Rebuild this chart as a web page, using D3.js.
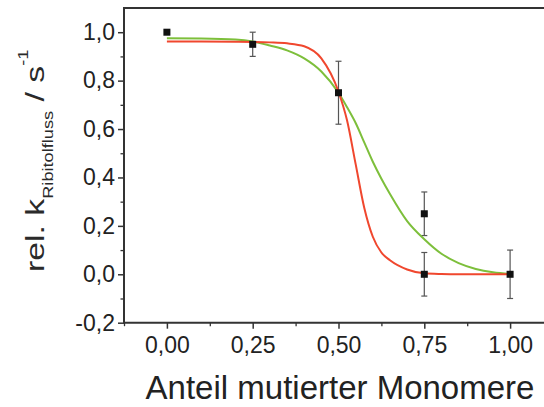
<!DOCTYPE html>
<html>
<head>
<meta charset="utf-8">
<script src="https://cdn.jsdelivr.net/npm/d3@7"></script>
<style>
  html, body { margin: 0; padding: 0; background: #fff; }
  svg { display: block; font-family: "Liberation Sans", Arial, sans-serif; }
</style>
</head>
<body>
<svg></svg>
<script>
// measured points with error bars
const pointX = [0, 0.25, 0.5, 0.75, 0.75, 1.0];
const pointY = [1.0, 0.95, 0.75, 0.25, 0.0, 0.0];
const pointErr = [0, 0.05, 0.13, 0.09, 0.09, 0.10];

// fitted curves
const fitX = [0, 0.1, 0.2, 0.25, 0.3, 0.35, 0.4, 0.45, 0.5, 0.525, 0.55, 0.575, 0.6, 0.625, 0.65, 0.7, 0.75, 0.8, 0.85, 0.9, 0.95, 1.0];
const redFit = [0.962, 0.962, 0.961, 0.960, 0.958, 0.954, 0.942, 0.892, 0.754, 0.635, 0.455, 0.275, 0.155, 0.090, 0.058, 0.020, 0.004, 0.001, 0, 0, 0, 0];
const greenFit = [0.975, 0.974, 0.970, 0.962, 0.945, 0.925, 0.892, 0.838, 0.750, 0.690, 0.625, 0.545, 0.465, 0.395, 0.332, 0.220, 0.145, 0.085, 0.046, 0.022, 0.008, 0.001];

const xTicks = [0, 0.25, 0.5, 0.75, 1.0];
const xMinor = [-0.125, 0.125, 0.375, 0.625, 0.875, 1.125];
const yTicks = [-0.2, 0, 0.2, 0.4, 0.6, 0.8, 1.0];
const yMinor = [-0.1, 0.1, 0.3, 0.5, 0.7, 0.9];

document.addEventListener('DOMContentLoaded', function() {
  const width = 544;
  const height = 407;

  const svg = d3.select('svg')
    .attr('width', width)
    .attr('height', height);

  const x = d3.scaleLinear().domain([-0.125, 1.125]).range([124, 553]);
  const y = d3.scaleLinear().domain([-0.2, 1.1]).range([322.7, 8]);

  const de = d3.formatLocale({decimal: ',', thousands: '.', grouping: [3], currency: ['', ''], minus: '-'});
  const fmtX = de.format('.2f');
  const fmtY = de.format('.1f');

  const axisColor = '#333';

  // minor ticks
  svg.append('g')
    .attr('transform', `translate(0,${y(-0.2)})`)
    .call(d3.axisBottom(x).tickValues(xMinor).tickSize(3.5).tickFormat(''))
    .call(g => g.select('.domain').remove())
    .call(g => g.selectAll('line').attr('stroke', axisColor).attr('stroke-width', 1.3));

  svg.append('g')
    .attr('transform', `translate(${x(-0.125)},0)`)
    .call(d3.axisLeft(y).tickValues(yMinor).tickSize(3.5).tickFormat(''))
    .call(g => g.select('.domain').remove())
    .call(g => g.selectAll('line').attr('stroke', axisColor).attr('stroke-width', 1.3));

  // major axes
  svg.append('g')
    .attr('transform', `translate(0,${y(-0.2)})`)
    .call(d3.axisBottom(x).tickValues(xTicks).tickSize(6).tickSizeOuter(0).tickPadding(8).tickFormat(fmtX))
    .call(g => g.select('.domain').remove())
    .call(g => g.selectAll('line').attr('stroke', axisColor).attr('stroke-width', 1.5))
    .call(g => g.selectAll('text').attr('font-size', 23).attr('fill', '#222')
      .attr('font-family', '"Liberation Sans", Arial, sans-serif'));

  svg.append('g')
    .attr('transform', `translate(${x(-0.125)},0)`)
    .call(d3.axisLeft(y).tickValues(yTicks).tickSize(6).tickSizeOuter(0).tickPadding(3).tickFormat(fmtY))
    .call(g => g.select('.domain').remove())
    .call(g => g.selectAll('line').attr('stroke', axisColor).attr('stroke-width', 1.5))
    .call(g => g.selectAll('text').attr('font-size', 23).attr('fill', '#222')
      .attr('font-family', '"Liberation Sans", Arial, sans-serif'));

  // frame: left, bottom, top
  const frame = svg.append('g')
    .attr('stroke', axisColor)
    .attr('stroke-width', 2)
    .attr('fill', 'none');
  frame.append('path')
    .attr('d', `M${x(1.125)},${y(1.1)}H${x(-0.125)}V${y(-0.2)}H${x(1.125)}`);

  // error bars
  const pts = pointX.map((px, i) => ({x: px, y: pointY[i], e: pointErr[i]}));
  const bars = svg.append('g')
    .attr('stroke', '#555')
    .attr('stroke-width', 1.2)
    .selectAll('g')
    .data(pts.filter(d => d.e > 0))
    .join('g');
  bars.append('line')
    .attr('x1', d => x(d.x)).attr('x2', d => x(d.x))
    .attr('y1', d => y(d.y - d.e)).attr('y2', d => y(d.y + d.e));
  bars.append('line')
    .attr('x1', d => x(d.x) - 3).attr('x2', d => x(d.x) + 3)
    .attr('y1', d => y(d.y + d.e)).attr('y2', d => y(d.y + d.e));
  bars.append('line')
    .attr('x1', d => x(d.x) - 3).attr('x2', d => x(d.x) + 3)
    .attr('y1', d => y(d.y - d.e)).attr('y2', d => y(d.y - d.e));

  // fit curves
  const line = d3.line()
    .x((d, i) => x(fitX[i]))
    .y(d => y(d))
    .curve(d3.curveMonotoneX);

  svg.append('path')
    .datum(greenFit)
    .attr('fill', 'none')
    .attr('stroke', '#7dbf3b')
    .attr('stroke-width', 2)
    .attr('d', line);

  svg.append('path')
    .datum(redFit)
    .attr('fill', 'none')
    .attr('stroke', '#f0472e')
    .attr('stroke-width', 2)
    .attr('d', line);

  // markers
  svg.append('g')
    .selectAll('rect')
    .data(pts)
    .join('rect')
    .attr('x', d => x(d.x) - 3.5)
    .attr('y', d => y(d.y) - 3.5)
    .attr('width', 7)
    .attr('height', 7)
    .attr('fill', '#111');

  // axis titles
  svg.append('text')
    .attr('x', 340)
    .attr('y', 399)
    .attr('text-anchor', 'middle')
    .attr('font-size', 33)
    .attr('fill', '#222')
    .text('Anteil mutierter Monomere');

  const yTitle = svg.append('text')
    .attr('transform', 'translate(44,272) rotate(-90) scale(1.3,1)')
    .attr('font-size', 26)
    .attr('fill', '#2a2a2a');
  yTitle.append('tspan').text('rel. k');
  yTitle.append('tspan').attr('font-size', 14).attr('dy', 9).text('Ribitolfluss');
  yTitle.append('tspan').attr('dy', -9).text(' / s');
  yTitle.append('tspan').attr('font-size', 14).attr('dy', -16).text('-1');
});
</script>
</body>
</html>
